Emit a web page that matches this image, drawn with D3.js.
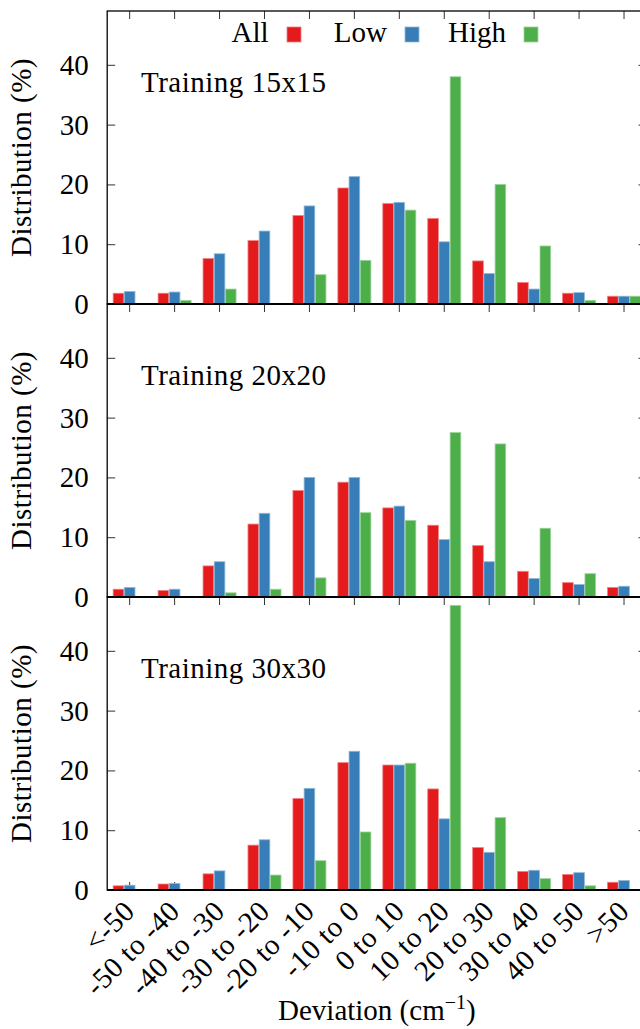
<!DOCTYPE html>
<html><head><meta charset="utf-8">
<script src="https://cdn.jsdelivr.net/npm/d3@7"></script>
</head><body style="margin:0;background:#fff">
<svg id="c" width="640" height="1029"></svg>
<script>
// ---- data ----
const categories = ["<-50","-50 to -40","-40 to -30","-30 to -20","-20 to -10","-10 to 0","0 to 10","10 to 20","20 to 30","30 to 40","40 to 50",">50"];
const seriesNames = ["All","Low","High"];
const panelTitles = ["Training 15x15","Training 20x20","Training 30x30"];
const yTicks = [0,10,20,30,40];

const all15  = [1.8,1.8,7.6,10.6,14.8,19.4,16.8,14.3,7.2,3.6,1.8,1.3];
const low15  = [2.1,2.0,8.4,12.2,16.4,21.3,17.0,10.4,5.1,2.5,1.9,1.3];
const high15 = [0,0.6,2.5,0,4.9,7.3,15.7,38.0,20.0,9.7,0.6,1.3];

const all20  = [1.3,1.1,5.2,12.2,17.8,19.2,14.9,12.0,8.6,4.3,2.4,1.6];
const low20  = [1.6,1.3,5.9,14.0,20.0,20.0,15.2,9.6,5.9,3.1,2.1,1.8];
const high20 = [0,0,0.7,1.3,3.2,14.1,12.8,27.5,25.6,11.5,3.9,0];

const all30  = [0.7,1.0,2.7,7.5,15.3,21.3,20.9,16.9,7.1,3.1,2.6,1.3];
const low30  = [0.8,1.1,3.2,8.4,17.0,23.2,20.9,11.9,6.3,3.3,2.9,1.6];
const high30 = [0,0,0,2.5,4.9,9.7,21.2,47.6,12.1,1.9,0.7,0];

const panelData = [[all15,low15,high15],[all20,low20,high20],[all30,low30,high30]];

// ---- layout ----
const FONT = '"Liberation Serif"';
const svg = d3.select("#c");
const left = 107.2, right = 646.5;
const panelTops = [11,304,597], panelH = 293;
const yMax = 49;

const x0 = d3.scaleBand().domain(categories).range([left,right]).paddingInner(0.265).paddingOuter(0.1325);
const x1 = d3.scaleBand().domain(seriesNames).range([0,x0.bandwidth()]).paddingInner(0.05);
const color = d3.scaleOrdinal().domain(seriesNames).range(["#e41a1c","#377eb8","#4daf4a"]);
const light = s => d3.interpolateRgb(color(s),"#ffffff")(0.45);

function styleAxis(g){
  g.select(".domain").remove();
  g.selectAll(".tick line").attr("stroke","#333").attr("stroke-width",1);
}
function txt(sel){
  return sel.style("font-family",FONT,"important").style("font-size","29px","important").attr("fill","#000");
}

panelTops.forEach((top,p)=>{
  const bottom = top+panelH;
  const y = d3.scaleLinear().domain([0,yMax]).range([bottom,top]);
  const g = svg.append("g");

  g.append("g").attr("transform",`translate(0,${bottom})`)
    .call(d3.axisBottom(x0).tickSize(-8).tickFormat("")).call(styleAxis);
  g.append("g").attr("transform",`translate(0,${top})`)
    .call(d3.axisTop(x0).tickSize(-8).tickFormat("")).call(styleAxis);
  const ya = g.append("g").attr("transform",`translate(${left},0)`)
    .call(d3.axisLeft(y).tickValues(yTicks).tickSize(-8).tickPadding(18.5).tickFormat(d3.format("d"))).call(styleAxis);
  ya.attr("font-family",null).attr("font-size",null);
  txt(ya.selectAll(".tick text")).attr("dy","0.33em");
  g.append("g").attr("transform",`translate(${right},0)`)
    .call(d3.axisRight(y).tickValues(yTicks).tickSize(-8).tickFormat("")).call(styleAxis);

  seriesNames.forEach((s,si)=>{
    const vals = panelData[p][si];
    g.append("g").selectAll("rect")
      .data(categories.map((c,i)=>({c,v:vals[i]})).filter(d=>d.v>0))
      .join("rect")
      .attr("x",d=>x0(d.c)+x1(s))
      .attr("y",d=>y(d.v))
      .attr("width",x1.bandwidth())
      .attr("height",d=>y(0)-y(d.v))
      .attr("fill",color(s))
      .attr("stroke",light(s))
      .attr("stroke-width",0.8);
  });

  g.append("rect").attr("x",left).attr("y",top).attr("width",right-left).attr("height",panelH)
    .attr("fill","none").attr("stroke","#000").attr("stroke-width",1.3);
  g.append("line").attr("x1",left).attr("x2",right).attr("y1",bottom).attr("y2",bottom)
    .attr("stroke","#000").attr("stroke-width",2.2);

  txt(g.append("text").attr("x",141).attr("y",top+81)).style("letter-spacing","0.5px").text(panelTitles[p]);

  txt(g.append("text").attr("transform",`translate(31,${top+panelH/2}) rotate(-90)`)
    .attr("text-anchor","middle")).style("letter-spacing","0.5px").text("Distribution (%)");
});

const legendTextRight = [268.5,387,506];
const legendSwatchX = [287,405,524];
seriesNames.forEach((s,i)=>{
  txt(svg.append("text").attr("x",legendTextRight[i]).attr("y",42).attr("text-anchor","end")).text(s);
  svg.append("rect").attr("x",legendSwatchX[i]).attr("y",27).attr("width",14).attr("height",15)
    .attr("fill",color(s)).attr("stroke",light(s)).attr("stroke-width",0.8);
});

const lastBottom = panelTops[2]+panelH;
txt(svg.append("g").selectAll("text").data(categories).join("text")
  .attr("transform",d=>`translate(${x0(d)+x0.bandwidth()/2},${lastBottom+16}) rotate(-45)`)
  .attr("text-anchor","end").attr("dy","0.33em")).style("letter-spacing","0.5px").text(d=>d);

const xt = txt(svg.append("text").attr("x",(left+right)/2).attr("y",1020).attr("text-anchor","middle"));
xt.append("tspan").text("Deviation (cm");
xt.append("tspan").style("font-size","20px","important").attr("dy","-11").text("\u22121");
xt.append("tspan").attr("dy","11").text(")");
</script>
</body></html>
